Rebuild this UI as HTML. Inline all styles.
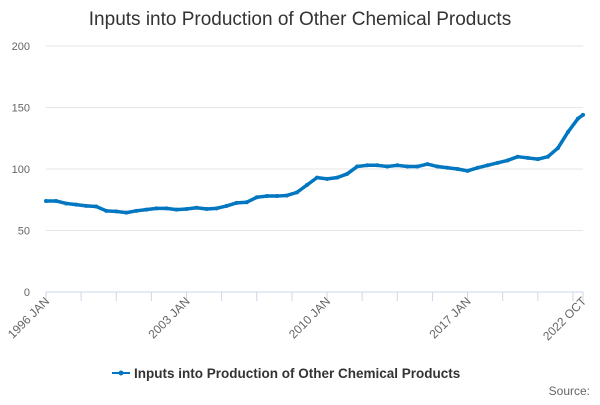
<!DOCTYPE html>
<html><head><meta charset="utf-8"><style>
body{margin:0;background:#fff;font-family:"Liberation Sans",sans-serif}
</style></head><body>
<svg id="chart" width="600" height="400" xmlns="http://www.w3.org/2000/svg">
<text x="300" y="25" text-anchor="middle" font-size="19" fill="#333">Inputs into Production of Other Chemical Products</text>
<g id="grid"></g><g id="axes"></g><g id="series"></g>
<g>
<line x1="112" y1="373" x2="130" y2="373" stroke="#0077c0" stroke-width="2"/>
<circle cx="121" cy="373" r="2.5" fill="#0077c0"/>
<text x="134" y="378" font-size="13.5" font-weight="bold" fill="#333">Inputs into Production of Other Chemical Products</text>
</g>
<text x="590" y="395" text-anchor="end" font-size="12" fill="#666">Source:</text>
</svg>
<script>
const monthIdx=[0,6,12,18,24,30,36,42,48,54,60,66,72,78,84,90,96,102,108,114,120,126,132,138,144,150,156,162,168,174,180,186,192,198,204,210,216,222,228,234,240,246,252,258,264,270,276,282,288,294,300,306,312,318,321];
const values=[74,74,72,71,70,69.5,66,65.5,64.5,66,67,68,68,67,67.5,68.5,67.5,68,70,72.5,73,77,78,78,78.5,81,87,93,92,93,96,102,103,103,102,103,102,102,104,102,101,100,98.5,101,103,105,107,110,109,108,110,117,130,141,144];
const yTicks=[0,50,100,150,200];
const xTickIdx=[0,84,168,252,321];
const xTickLabels=["1996 JAN","2003 JAN","2010 JAN","2017 JAN","2022 OCT"];
const NS="http://www.w3.org/2000/svg";
const x=m=>46+m*(583-46)/321, y=v=>292-v*1.23;
const grid=document.getElementById('grid'),axes=document.getElementById('axes'),ser=document.getElementById('series');
function mk(t,a,p){const e=document.createElementNS(NS,t);for(const k in a)e.setAttribute(k,a[k]);p.appendChild(e);return e;}
yTicks.forEach(v=>{
 const l=mk('line',{x1:46,x2:583,y1:y(v),y2:y(v),stroke:v?'#e6e6e6':'#ccd6eb'},grid);
 
 
 const t=mk('text',{x:30,y:y(v)+4,'text-anchor':'end','font-size':11,fill:'#666'},axes);t.textContent=v;
 
 
});
for(let m=0;m<=321;m+=21){mk('line',{x1:x(m),x2:x(m),y1:292,y2:301,stroke:'#ccd6eb'},axes);}
mk('line',{x1:x(321),x2:x(321),y1:292,y2:301,stroke:'#ccd6eb'},axes);
xTickIdx.forEach((m,i)=>{
 const t=mk('text',{x:x(m)+4,y:302,'text-anchor':'end','font-size':12,fill:'#666',transform:`rotate(-45 ${x(m)+4} 302)`},axes);
 t.textContent=xTickLabels[i];
 
 
});
const p=mk('polyline',{points:monthIdx.map((m,i)=>x(m)+','+y(values[i])).join(' '),fill:'none',stroke:'#0077c0','stroke-width':3.5,'stroke-linejoin':'round'},ser);


monthIdx.forEach((m,i)=>{
 const c=mk('circle',{cx:x(m),cy:y(values[i]),r:2,fill:'#0077c0'},ser);
 
 
});
</script>
</body></html>
